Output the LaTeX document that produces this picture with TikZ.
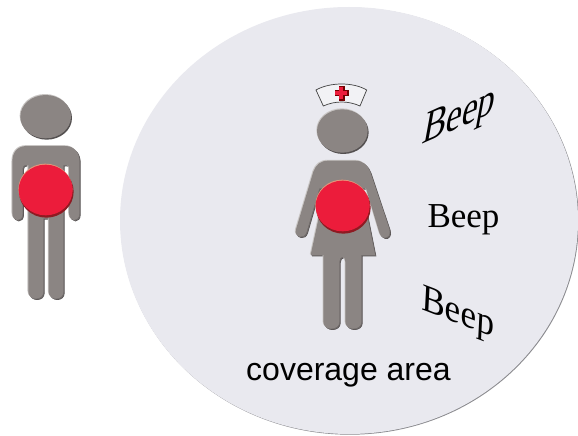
\documentclass[tikz,border=0pt]{standalone}
\usepackage{fontspec}
\setmainfont{Liberation Serif}
\newfontfamily\cvfont{Liberation Sans}
\definecolor{areafill}{HTML}{E9E9EF}
\definecolor{arearim}{HTML}{8A8A8E}
\definecolor{bodygray}{HTML}{8B8583}
\definecolor{bodydark}{HTML}{545050}
\definecolor{bodymid}{HTML}{716C6B}
\definecolor{bodylight}{HTML}{C9C6C4}
\definecolor{discred}{HTML}{EC1C3B}
\definecolor{discdark}{HTML}{8E1A22}
\definecolor{disclight}{HTML}{E4957A}
\tikzset{
  x=1pt,y=-1pt,
  nursebody/.style={insert path={
    (145,272) -- (225,272) .. controls (250,272) and (262,285) .. (270,305)
    -- (328,478) .. controls (333,495) and (322,505) .. (312,503)
    .. controls (304,502) and (300,495) .. (297,485)
    -- (258,355) -- (245,355) -- (285,555) -- (244,555)
    -- (244,755) .. controls (244,783) and (196,783) .. (196,755)
    -- (196,575) .. controls (196,556) and (178,556) .. (178,575)
    -- (178,755) .. controls (178,783) and (130,783) .. (130,755)
    -- (130,555) -- (92,555) -- (135,355) -- (118,355)
    -- (80,485) .. controls (76,497) and (68,502) .. (60,500)
    .. controls (50,498) and (44,490) .. (48,478)
    -- (100,305) .. controls (108,285) and (120,272) .. (145,272) -- cycle}},
  manbody/.style={insert path={
    (80,183) -- (195,183) .. controls (225,183) and (238,205) .. (238,230)
    -- (238,385) .. controls (238,412) and (207,412) .. (207,385)
    -- (207,250) .. controls (207,240) and (200,240) .. (190,240)
    -- (190,620) .. controls (190,648) and (146,648) .. (146,620)
    -- (146,400) -- (130,400)
    -- (130,620) .. controls (130,648) and (85,648) .. (85,620)
    -- (85,240) .. controls (75,240) and (68,240) .. (68,250)
    -- (68,385) .. controls (68,412) and (37,412) .. (37,385)
    -- (37,230) .. controls (37,205) and (50,183) .. (80,183) -- cycle}},
  capshape/.style={insert path={
    (108,60) .. controls (150,36) and (220,36) .. (260,60)
    -- (240,108) .. controls (205,92) and (165,92) .. (130,108) -- cycle}},
  dropdark/.style={fill=bodydark,xshift=4pt,yshift=-4pt},
  dropmid/.style={fill=bodymid,xshift=2.5pt,yshift=-2.5pt},
  droplight/.style={fill=bodylight,xshift=-2.5pt,yshift=2.5pt},
  bodyfill/.style={fill=bodygray},
  beepword/.style={inner sep=0pt,text=black,font=\fontsize{35}{35}\selectfont},
}
\newcommand{\beveled}[1]{%
  \fill[dropdark,#1]; \fill[dropmid,#1]; \fill[droplight,#1]; \fill[bodyfill,#1];}
\newcommand{\reddisc}[2]{%
  \fill[discdark] (#1+2,#2+5) ellipse [x radius=82,y radius=78];
  \fill[disclight] (#1-1,#2-3) ellipse [x radius=81,y radius=76];
  \fill[discred] (#1,#2) ellipse [x radius=81,y radius=76];}
\newcommand{\bevelhead}[2]{%
  \fill[bodydark] (#1+3,#2+4) ellipse [x radius=76,y radius=65];
  \fill[bodylight] (#1-2,#2-3) ellipse [x radius=76,y radius=65];
  \fill[bodygray] (#1,#2) ellipse [x radius=76,y radius=65];}
\begin{document}
\begin{tikzpicture}
\useasboundingbox (0,0) rectangle (578,436);
\fill[white] (0,0) rectangle (578,436);
% coverage area
\fill[arearim] (349.8,221.2) ellipse [x radius=229,y radius=213.5];
\fill[areafill] (349,220.5) ellipse [x radius=229,y radius=213.5];
% left figure
\begin{scope}[shift={(0,85)},scale=1/3]
  \beveled{manbody}
  \bevelhead{137}{95}
  \reddisc{137}{315}
\end{scope}
% nurse
\begin{scope}[shift={(280,70)},scale=1/3]
  \beveled{nursebody}
  \bevelhead{187}{183}
  \reddisc{188}{408}
  \draw[fill=areafill!60!white,draw=black!75,line width=0.7pt,capshape];
  \fill[black!55!red] (176,48) rectangle (196,92);
  \fill[black!55!red] (164,61) rectangle (206,78);
  \fill[discred] (177,50) rectangle (190,87);
  \fill[discred] (165,62) rectangle (202,74);
\end{scope}
% Beep words
\node[beepword,yslant=.45,xslant=.2,yscale=1.25] (topbeep) at (459,118) {Beep};
\node[beepword,anchor=base] (midbeep) at (463.5,227) {Beep};
\node[beepword,yslant=-.38,xslant=.05,yscale=1.12] (lowbeep) at (458,315) {Beep};
% label
\node[inner sep=0pt,anchor=base,text=black,font=\cvfont\fontsize{32}{32}\selectfont] (cov) at (348.5,380) {coverage area};
\end{tikzpicture}
\end{document}
